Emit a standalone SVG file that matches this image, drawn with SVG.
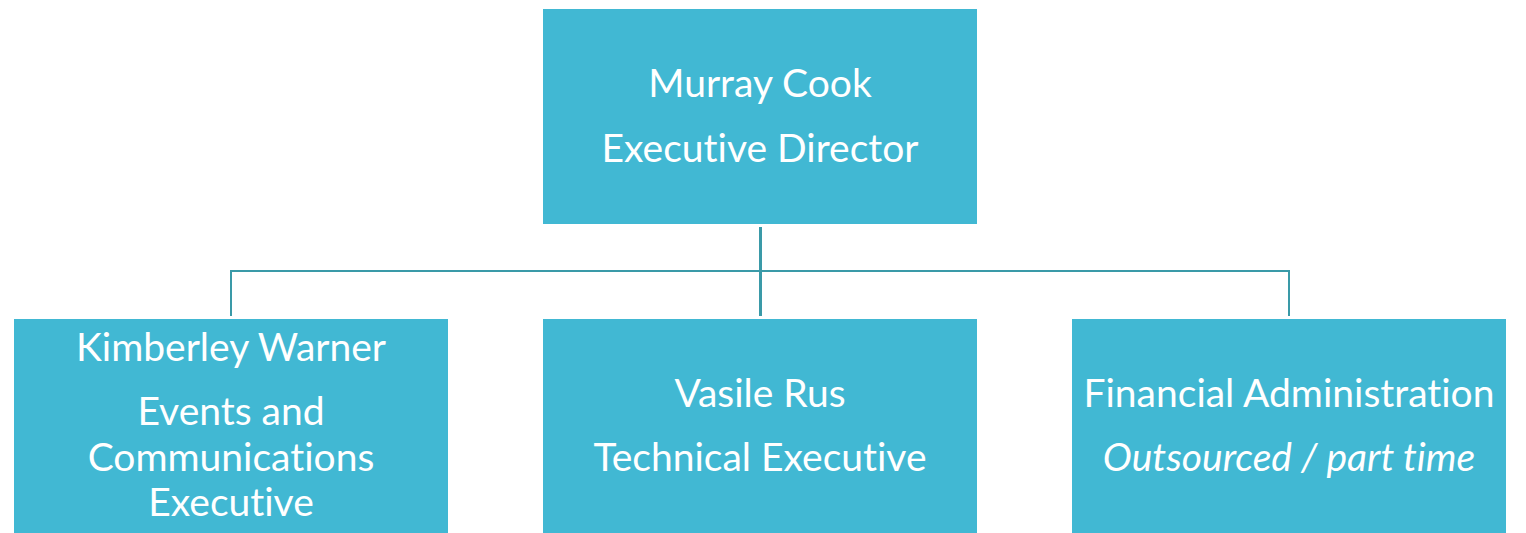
<svg xmlns="http://www.w3.org/2000/svg" width="1526" height="533" viewBox="0 0 1526 533">
<style>
.box{fill:#41B8D3}
.t{fill:#fff;font-family:Lato,"Open Sans",sans-serif;font-size:39px;text-anchor:middle;font-variant-ligatures:none}
.i{font-style:italic}
.c{stroke:#3A9AA8;fill:none}
</style>
<rect width="1526" height="533" fill="#fff"/>
<g id="connectors">
<line class="c" x1="760.5" y1="227" x2="760.5" y2="316" stroke-width="3"/>
<polyline class="c" points="231,316 231,271 1289,271 1289,316" stroke-width="2"/>
</g>
<g id="n-murray">
<rect class="box" x="543" y="9" width="434" height="215"/>
<text class="t" x="760" y="97">Murray Cook</text>
<text class="t" x="760" y="162">Executive Director</text>
</g>
<g id="n-kimberley">
<rect class="box" x="14" y="319" width="434" height="214"/>
<text class="t" x="231" y="361">Kimberley Warner</text>
<text class="t" x="231" y="425">Events and</text>
<text class="t" x="231" y="471">Communications</text>
<text class="t" x="231" y="516">Executive</text>
</g>
<g id="n-vasile">
<rect class="box" x="543" y="319" width="434" height="214"/>
<text class="t" x="760" y="407">Vasile Rus</text>
<text class="t" x="760" y="471">Technical Executive</text>
</g>
<g id="n-financial">
<rect class="box" x="1072" y="319" width="434" height="214"/>
<text class="t" x="1289" y="407">Financial Administration</text>
<text class="t i" x="1289" y="471">Outsourced / part time</text>
</g>
</svg>
